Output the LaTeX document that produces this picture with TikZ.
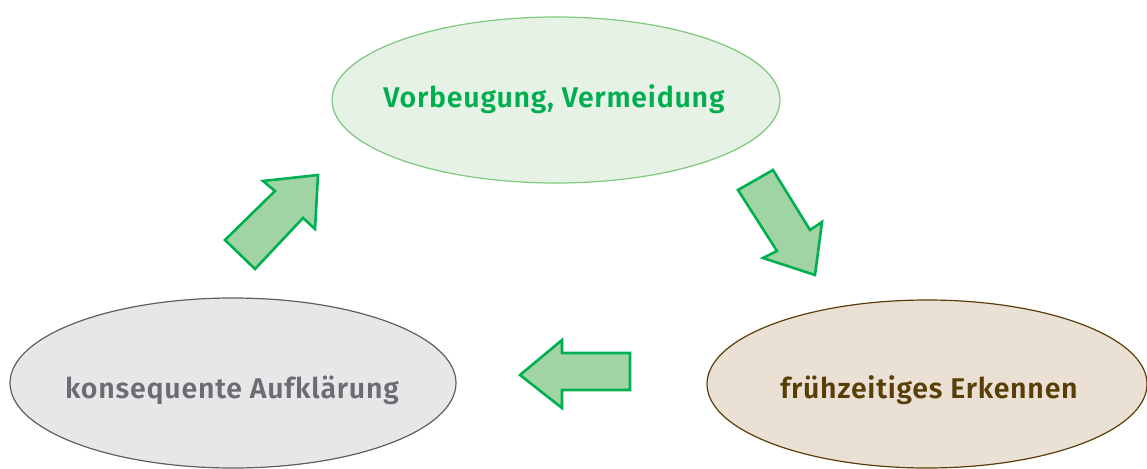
\documentclass[tikz,border=0pt]{standalone}
\usepackage{fontspec}
\setmainfont{Fira Sans}[BoldFont={Fira Sans SemiBold}, BoldFeatures={LetterSpace=2.7}]
\usetikzlibrary{shapes.geometric}
\definecolor{grText}{RGB}{0,174,80}
\definecolor{grFill}{RGB}{230,242,230}
\definecolor{grLine}{RGB}{125,200,125}
\definecolor{gyText}{RGB}{108,109,112}
\definecolor{gyFill}{RGB}{230,231,232}
\definecolor{gyLine}{RGB}{95,95,95}
\definecolor{brText}{RGB}{90,62,8}
\definecolor{brFill}{RGB}{234,225,212}
\definecolor{brLine}{RGB}{90,62,10}
\definecolor{arFill}{RGB}{160,212,164}
\definecolor{arLine}{RGB}{0,176,80}
\tikzset{
  phase/.style={ellipse, inner sep=0pt, line width=1.2pt},
  label/.style={font=\fontsize{28.5}{32}\selectfont\bfseries, anchor=base},
  blockarrow/.style={fill=arFill, draw=arLine, line width=2.6pt, line join=miter},
}
\begin{document}
\begin{tikzpicture}[x=1pt, y=-1pt]
\useasboundingbox (0,0) rectangle (1147,468);
% the three phases of the cycle
\node[phase, draw=grLine, fill=grFill,
      minimum width=448pt, minimum height=166pt] (vorbeugung) at (556,100) {};
\node[phase, draw=gyLine, fill=gyFill,
      minimum width=446pt, minimum height=170pt] (aufklaerung) at (233,383) {};
\node[phase, draw=brLine, fill=brFill,
      minimum width=440pt, minimum height=168pt] (erkennen) at (927,384) {};
\node[label, text=grText] (t1) at (554,107) {Vorbeugung, Vermeidung};
\node[label, text=gyText] (t2) at (232,398) {konsequente Aufklärung};
\node[label, text=brText] (t3) at (929,398) {frühzeitiges Erkennen};
% block arrows between the phases
\draw[blockarrow] (225,240) -- (275,191) -- (263,181) -- (318,175)
  -- (315,229) -- (303,218) -- (255,269) -- cycle;
\draw[blockarrow] (738,190) -- (773,170) -- (810,230) -- (822,222)
  -- (815,275) -- (763,258) -- (777,251) -- cycle;
\draw[blockarrow] (520,375) -- (562,340) -- (562,353) -- (630,353)
  -- (630,390) -- (562,390) -- (562,408) -- cycle;
\end{tikzpicture}
\end{document}
